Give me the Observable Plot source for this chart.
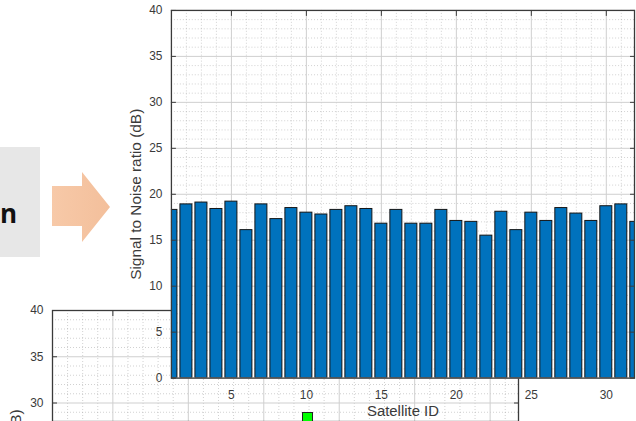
<!DOCTYPE html>
<html>
<head>
<meta charset="utf-8">
<script src="https://cdn.jsdelivr.net/npm/d3@7"></script>
<script src="https://cdn.jsdelivr.net/npm/@observablehq/plot@0.6"></script>
<style>
  html, body { margin: 0; padding: 0; background: #fff; }
  #wrap { position: relative; width: 636px; height: 421px; overflow: hidden; background: #fff;
          font-family: "Liberation Sans", Arial, sans-serif; }
  #wrap > svg.chart { position: absolute; left: 0; top: 0; }
  .graybox { position: absolute; left: 0; top: 147px; width: 40px; height: 110px; background: #e7e7e7; }
  .graybox span { position: absolute; right: 23px; top: 53px; font: bold 26px "Open Sans", "Liberation Sans", Arial, sans-serif; color: #111; line-height: 1; }
  .marker { position: absolute; left: 302px; top: 412px; width: 9px; height: 9px; background: #00ff00; border: 1px solid #222; }
</style>
</head>
<body>
<div id="wrap"></div>
<script>
// ---- data ----
const satelliteIds = [1,2,3,4,5,6,7,8,9,10,11,12,13,14,15,16,17,18,19,20,21,22,23,24,25,26,27,28,29,30,31,32];
const snrDb = [18.3,18.9,19.1,18.4,19.2,16.1,18.9,17.3,18.5,18.0,17.8,18.3,18.7,18.4,16.8,18.3,16.8,16.8,18.3,17.1,17.0,15.5,18.1,16.1,18.0,17.1,18.5,17.9,17.1,18.7,18.9,17.0];
const xTickValues = [5,10,15,20,25,30];
const yTickValues = [0,5,10,15,20,25,30,35,40];
const xMinorValues = [1,2,3,4,6,7,8,9,11,12,13,14,16,17,18,19,21,22,23,24,26,27,28,29,31];
const yMinorValues = [1,2,3,4,6,7,8,9,11,12,13,14,16,17,18,19,21,22,23,24,26,27,28,29,31,32,33,34,36,37,38,39];
const xLabel = "Satellite ID";
const yLabel = "Signal to Noise ratio (dB)";
const xDomain = [1, 31.88];
const yDomain = [0, 40];
const bgYDomain = [28.0, 40];   // visible part of the chart behind

const bars = satelliteIds.map((id, i) => ({id, snr: snrDb[i]}));

const font = "Liberation Sans, Arial, sans-serif";
const inkColor = "#3a3a3a";

function chartMarks({withBars, yDom, yLabelMark, xLabelMark}) {
  const inY = v => v >= yDom[0] && v <= yDom[1];
  const yt = yTickValues.filter(inY);
  const ym = yMinorValues.filter(inY);
  return [
    Plot.frame({fill: "white"}),
    Plot.gridX(xMinorValues, {stroke: "#9a9a9a", strokeOpacity: 0.45, strokeDasharray: "1,2"}),
    Plot.gridY(ym, {stroke: "#9a9a9a", strokeOpacity: 0.45, strokeDasharray: "1,2"}),
    Plot.gridX(xTickValues, {stroke: "#cfcfcf", strokeOpacity: 1}),
    Plot.gridY(yt, {stroke: "#cfcfcf", strokeOpacity: 1}),
    ...(withBars ? [Plot.rectY(bars, {x1: d => d.id - 0.4, x2: d => d.id + 0.4, y: "snr",
                      fill: "#0072BD", stroke: "#141414", strokeWidth: 1, clip: true})] : []),
    Plot.axisY(yt, {anchor: "left", tickSize: 0, tickPadding: 9, label: null, fontSize: 12, fill: inkColor}),
    Plot.axisY(yt, {anchor: "left", tickSize: 5, dx: 5, tickFormat: () => "", label: null, stroke: inkColor}),
    Plot.axisY(yt, {anchor: "right", tickSize: 5, dx: -5, tickFormat: () => "", label: null, stroke: inkColor}),
    ...(xLabelMark ? [
      Plot.axisX(xTickValues, {anchor: "bottom", tickSize: 0, tickPadding: 12, label: null, fontSize: 12, fill: inkColor}),
      xLabelMark] : []),
    Plot.axisX(xTickValues, {anchor: "top", tickSize: 5, dy: 5, tickFormat: () => "", label: null, stroke: inkColor}),
    yLabelMark,
    Plot.frame({stroke: "#3a3a3a", strokeWidth: 1.3})
  ];
}

// background (second, partially hidden) chart
const bg = Plot.plot({
  width: 636, height: 421,
  marginLeft: 52, marginRight: 118, marginTop: 310, marginBottom: 0,
  style: {background: "transparent", fontFamily: font, color: inkColor},
  x: {domain: xDomain},
  y: {domain: bgYDomain},
  marks: chartMarks({
    withBars: false, yDom: bgYDomain,
    yLabelMark: Plot.text([yLabel], {text: d => d, frameAnchor: "top-left", dx: -36, dy: 185, rotate: -90,
                                     textAnchor: "middle", lineAnchor: "middle", fontSize: 15.5, fill: inkColor})
  })
});

// main chart
const main = Plot.plot({
  width: 640, height: 421,
  marginLeft: 172, marginRight: 2, marginTop: 10, marginBottom: 41,
  style: {background: "transparent", fontFamily: font, color: inkColor},
  x: {domain: xDomain},
  y: {domain: yDomain},
  marks: chartMarks({
    withBars: true, yDom: yDomain,
    xLabelMark: Plot.text([xLabel], {text: d => d, frameAnchor: "bottom", dy: 27, lineAnchor: "top",
                                     textAnchor: "middle", fontSize: 15, fill: inkColor}),
    yLabelMark: Plot.text([yLabel], {text: d => d, frameAnchor: "left", dx: -36, rotate: -90,
                                     textAnchor: "middle", lineAnchor: "middle", fontSize: 15.5, fill: inkColor})
  })
});

const wrap = document.getElementById("wrap");
bg.classList.add("chart");
main.classList.add("chart");
wrap.appendChild(bg);
wrap.appendChild(main);

// decorations from the slide
const box = document.createElement("div");
box.className = "graybox";
box.innerHTML = "<span>n</span>";
wrap.appendChild(box);

const arrow = document.createElementNS("http://www.w3.org/2000/svg", "svg");
arrow.setAttribute("width", "62");
arrow.setAttribute("height", "76");
arrow.setAttribute("style", "position:absolute;left:50px;top:170px;");
arrow.innerHTML = '<defs><linearGradient id="ag" x1="0" x2="1"><stop offset="0" stop-color="#f7c9a8"/><stop offset="1" stop-color="#f3bf9b"/></linearGradient></defs>' +
  '<polygon points="2,16 32,16 32,2 60,37 32,72 32,56 2,56" fill="url(#ag)"/>';
wrap.appendChild(arrow);

const marker = document.createElement("div");
marker.className = "marker";
wrap.appendChild(marker);
</script>
</body>
</html>
